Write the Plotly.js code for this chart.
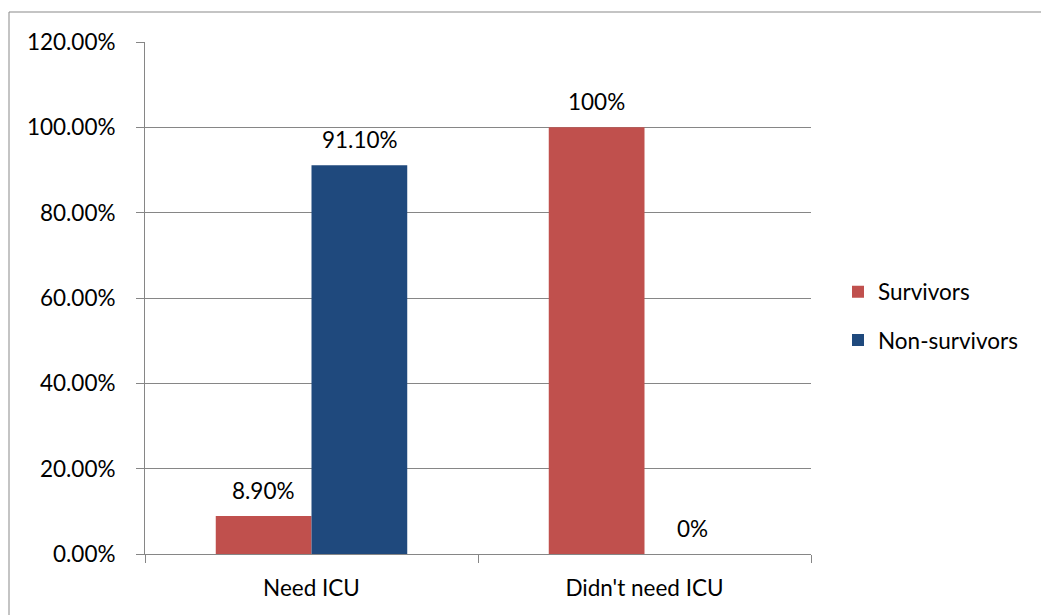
<!DOCTYPE html>
<html>
<head>
<meta charset="utf-8">
<script src="https://cdn.plot.ly/plotly-3.0.1.min.js"></script>
<style>
html,body{margin:0;padding:0;background:#fff;}
#chart{width:1041px;height:615px;}
</style>
</head>
<body>
<div id="chart"></div>
<script>
const categories = ["Need ICU", "Didn't need ICU"];
const survivors = [8.9, 100];
const nonSurvivors = [91.1, 0];
const survivorLabels = ["8.90%", "100%"];
const nonSurvivorLabels = ["91.10%", "0%"];
const yTickVals = [0, 20, 40, 60, 80, 100, 120];
const yTickText = ["0.00%", "20.00%", "40.00%", "60.00%", "80.00%", "100.00%", "120.00%"];

const FONT = "Lato, 'Open Sans', sans-serif";
const FS = 22.5;
const grid = "#868686";

const traces = [
  {
    type: "bar", name: "Survivors", x: categories, y: survivors,
    marker: {color: "#C0504D"}, legendgroup: "a", hoverinfo: "skip"
  },
  {
    type: "bar", name: "Non-survivors", x: categories, y: nonSurvivors,
    marker: {color: "#1F497D"}, legendgroup: "b", hoverinfo: "skip"
  }
];

// data labels placed above each bar
const annotations = [];
[[survivors, survivorLabels, -48], [nonSurvivors, nonSurvivorLabels, 48]].forEach(([vals, labels, dx]) => {
  categories.forEach((c, i) => {
    annotations.push({
      x: c, y: vals[i], xref: "x", yref: "y", text: labels[i], showarrow: false,
      xshift: dx, yshift: 26, xanchor: "center", yanchor: "middle",
      font: {family: FONT, size: FS, color: "#000"}
    });
  });
});

const L = 145, R = 811, T = 42, B = 554;
const pw = R - L, ph = B - T;
const px = v => (v - L) / pw;
const py = v => (B - v) / ph;

const layout = {
  width: 1041, height: 615,
  margin: {l: L, r: 1041 - R, t: T, b: 615 - B, pad: 0},
  paper_bgcolor: "#fff", plot_bgcolor: "#fff",
  font: {family: FONT, size: FS, color: "#000"},
  barmode: "group", bargap: 0.425, bargroupgap: 0,
  showlegend: true,
  legend: {
    x: px(838), y: py(316), xanchor: "left", yanchor: "middle",
    font: {family: FONT, size: FS, color: "#000"},
    tracegroupgap: 16, itemwidth: 30, bgcolor: "rgba(0,0,0,0)"
  },
  xaxis: {
    type: "category", tickson: "boundaries", ticks: "outside", ticklen: 8,
    tickcolor: grid, tickwidth: 1, showline: true, linecolor: grid, linewidth: 1,
    showgrid: false, tickfont: {family: FONT, size: FS}, ticklabelstandoff: 14, fixedrange: true
  },
  yaxis: {
    range: [0, 120], tickvals: yTickVals, ticktext: yTickText,
    ticks: "outside", ticklen: 8, tickcolor: grid, tickwidth: 1,
    showline: true, linecolor: grid, linewidth: 1,
    showgrid: true, gridcolor: grid, gridwidth: 1, zeroline: false,
    tickfont: {family: FONT, size: FS}, ticklabelstandoff: 16, fixedrange: true
  },
  annotations: annotations,
  shapes: [
    {type: "line", xref: "paper", yref: "paper", x0: px(9), x1: px(9), y0: py(12), y1: py(640), line: {color: "#898989", width: 1}},
    {type: "line", xref: "paper", yref: "paper", x0: px(9), x1: px(1060), y0: py(12), y1: py(12), line: {color: "#898989", width: 1}}
  ]
};

Plotly.newPlot("chart", traces, layout, {displayModeBar: false, staticPlot: true});
</script>
</body>
</html>
